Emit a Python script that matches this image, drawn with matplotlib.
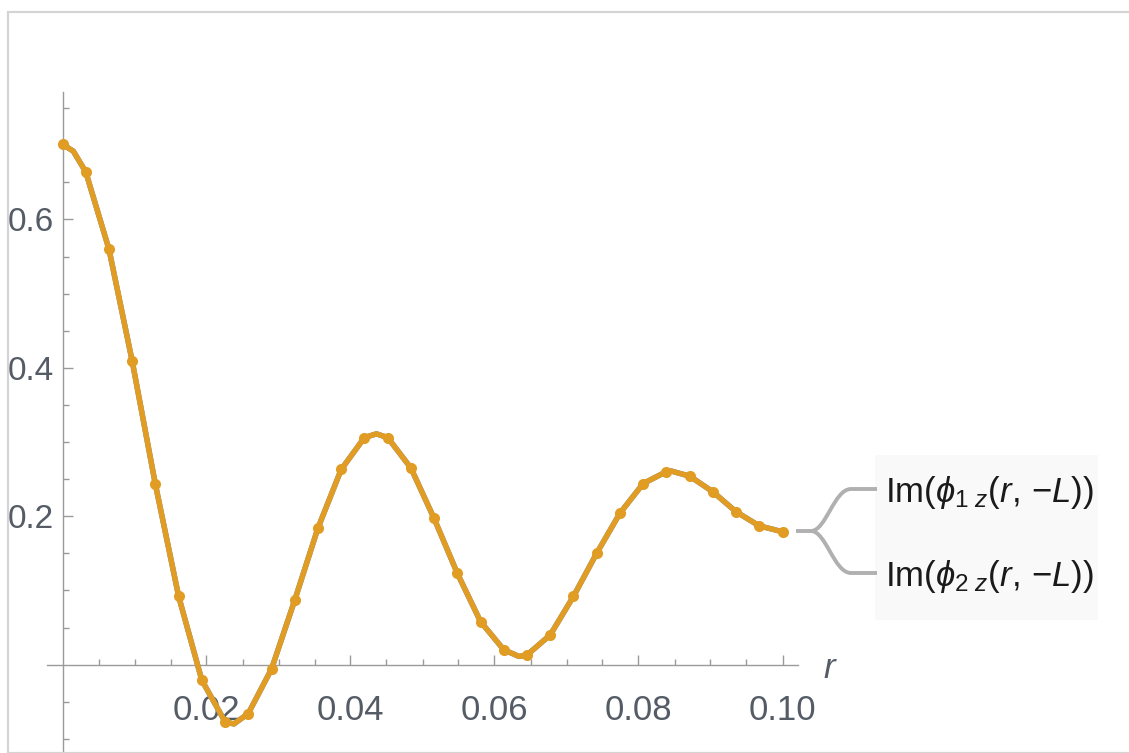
import matplotlib
matplotlib.use("Agg")
import numpy as np
import matplotlib.pyplot as plt
from matplotlib.path import Path
from matplotlib.patches import PathPatch, Rectangle
from matplotlib.ticker import FixedLocator, NullFormatter

W, H = 1129, 753

# puntos de malla (mesh)
r_mesh = [0.0, 0.00323, 0.00645, 0.00968, 0.0129, 0.01613, 0.01935, 0.02258,
          0.0258, 0.02903, 0.03226, 0.03548, 0.03871, 0.04194, 0.04516, 0.04839,
          0.05161, 0.05484, 0.05806, 0.06129, 0.06452, 0.06774, 0.07097, 0.07419,
          0.07742, 0.08065, 0.08387, 0.0871, 0.09032, 0.09355, 0.09677, 0.1]
im_mesh = [0.701, 0.664, 0.560, 0.409, 0.243, 0.092, -0.021, -0.077,
           -0.066, -0.006, 0.087, 0.184, 0.263, 0.306, 0.306, 0.265,
           0.197, 0.123, 0.058, 0.020, 0.013, 0.040, 0.092, 0.150,
           0.204, 0.244, 0.260, 0.254, 0.233, 0.206, 0.187, 0.179]

# puntos extra de la curva (cerca de maximos y minimos)
r_extra = [0.0015, 0.0238, 0.0436, 0.0634, 0.0845]
im_extra = [0.692, -0.080, 0.311, 0.011, 0.261]

yticks_major = [0.2, 0.4, 0.6]
ytick_labels = ["0.2", "0.4", "0.6"]
xticks_major = [0.02, 0.04, 0.06, 0.08, 0.10]
xtick_labels = ["0.02", "0.04", "0.06", "0.08", "0.10"]
labels = [r"$\mathrm{Im}(\phi_{1\,\,z}(r,\,{-}L))$", r"$\mathrm{Im}(\phi_{2\,\,z}(r,\,{-}L))$"]

plt.rcParams['font.family'] = ['Liberation Sans', 'DejaVu Sans']
plt.rcParams['mathtext.fontset'] = 'custom'
plt.rcParams['mathtext.rm'] = 'Liberation Sans'
plt.rcParams['mathtext.it'] = 'Liberation Sans:italic'

naranja = '#E19C24'
gris = '#9a9a9a'
texto = '#555c66'
fs = 25

fig = plt.figure(figsize=(W / 100, H / 100), dpi=100)

def px(x, y):
    return x / W, 1 - y / H

# marco gris claro
fig.patches.append(Rectangle(px(8, 753), (W + 10) / W, (753 - 12) / H, transform=fig.transFigure,
                             fill=False, edgecolor='#d4d4d4', lw=1.6))
# fondo de la leyenda
fig.patches.append(Rectangle(px(875, 620), (1098 - 875) / W, (620 - 455) / H, transform=fig.transFigure,
                             facecolor='#f9f9f9', edgecolor='none'))

ax = fig.add_axes([47 / W, 0, (798 - 47) / W, (753 - 92) / H])
ax.patch.set_alpha(0)

x0 = (47 - 62.5) / 7200
x1 = (798 - 62.5) / 7200
y0 = (664.6 - 753) / 742
y1 = (664.6 - 92) / 742
ax.set_xlim(x0, x1)
ax.set_ylim(y0, y1)

orden = np.argsort(r_mesh + r_extra)
r_linea = np.array(r_mesh + r_extra)[orden]
im_linea = np.array(im_mesh + im_extra)[orden]

# las dos curvas coinciden; la segunda (naranja) queda encima
ax.plot(r_linea, im_linea, color='#5E81B5', lw=3.9, solid_capstyle='round', solid_joinstyle='round', zorder=3)
ax.plot(r_linea, im_linea, color=naranja, lw=3.9, solid_capstyle='round', solid_joinstyle='round', zorder=4)
ax.plot(r_mesh, im_mesh, 'o', color=naranja, ms=8, mec='none', zorder=5)

for s in ['top', 'right']:
    ax.spines[s].set_visible(False)
ax.spines['left'].set_position(('data', 0))
ax.spines['bottom'].set_position(('data', 0))
for s in ['left', 'bottom']:
    ax.spines[s].set_color(gris)
    ax.spines[s].set_linewidth(1.0)

ax.yaxis.set_major_locator(FixedLocator(yticks_major))
ax.yaxis.set_minor_locator(FixedLocator([-0.1, -0.05, 0.05, 0.1, 0.15, 0.25, 0.3, 0.35, 0.45,
                                         0.5, 0.55, 0.65, 0.7, 0.75]))
ax.xaxis.set_major_locator(FixedLocator(xticks_major))
ax.set_xticklabels(xtick_labels)
ax.xaxis.set_minor_locator(FixedLocator([0.005, 0.01, 0.015, 0.025, 0.03, 0.035, 0.045, 0.05,
                                         0.055, 0.065, 0.07, 0.075, 0.085, 0.09, 0.095]))
ax.set_yticklabels(ytick_labels)
ax.yaxis.set_minor_formatter(NullFormatter())
ax.xaxis.set_minor_formatter(NullFormatter())

ax.tick_params(which='both', direction='in', color=gris, width=1.0, labelcolor=texto, labelsize=fs)
ax.tick_params(which='major', length=7)
ax.tick_params(which='minor', length=4)
ax.tick_params(axis='y', pad=6, labelsize=24)
ax.tick_params(axis='x', pad=21)

# etiqueta del eje r
fig.text(*px(829, 668), "r", style='italic', fontsize=fs, color=texto, ha='center', va='center')

# lineas de la leyenda
verts = [(796, 531), (811, 531), (826, 531), (834, 489), (851, 489), (877, 489),
         (811, 531), (826, 531), (834, 573), (851, 573), (877, 573)]
codes = [Path.MOVETO, Path.LINETO, Path.CURVE4, Path.CURVE4, Path.CURVE4, Path.LINETO,
         Path.MOVETO, Path.CURVE4, Path.CURVE4, Path.CURVE4, Path.LINETO]
ruta = Path([px(x, y) for x, y in verts], codes)
fig.patches.append(PathPatch(ruta, transform=fig.transFigure, fill=False, edgecolor='#b0b0b0',
                             lw=2.8, capstyle='butt'))

fig.text(*px(885, 502), labels[0], fontsize=fs, color='#1a1a1a', ha='left', va='baseline')
fig.text(*px(885, 586), labels[1], fontsize=fs, color='#1a1a1a', ha='left', va='baseline')

fig.savefig("out.png", dpi=100)
